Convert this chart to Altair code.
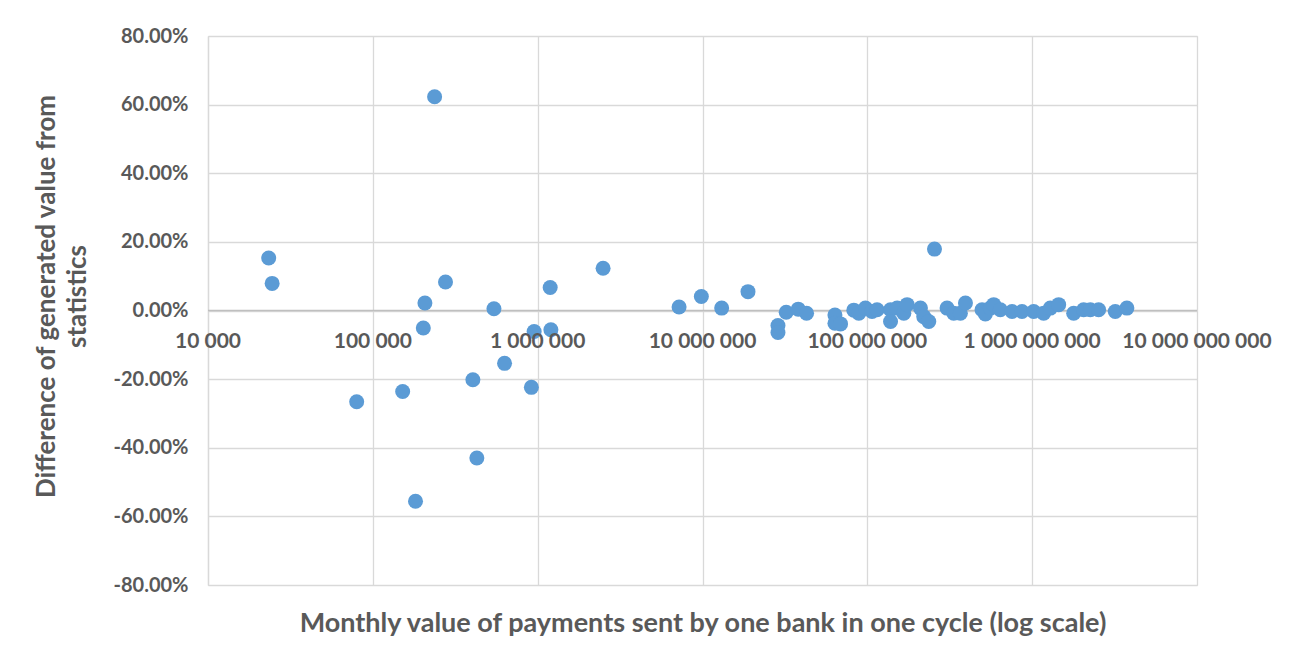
import altair as alt
import pandas as pd

# Monthly value of payments (x, log scale) and difference in % (y)
payments = [
    23350, 24500, 79800, 151700, 181500, 202400, 207000, 237000, 276000,
    404600, 427600, 543000, 629600, 916000, 952000, 1191000, 1203000, 2494000,
    7210000, 9840000, 13070000, 18880000, 28700000, 28700000, 32200000,
    38100000, 42800000, 63600000, 63600000, 68800000, 82800000, 88800000,
    97400000, 106800000, 114600000, 138300000, 138300000, 151700000,
    166500000, 174300000, 210000000, 219900000, 235900000, 255500000,
    304600000, 334300000, 367000000, 393800000, 496500000, 520000000,
    558000000, 584400000, 641000000, 755000000, 867700000, 1021000000,
    1174000000, 1289000000, 1448000000, 1786000000, 2052000000, 2254000000,
    2530000000, 3193000000, 3755000000,
]
difference_pct = [
    15.3, 7.9, -26.6, -23.6, -55.6, -5.1, 2.2, 62.3, 8.3,
    -20.2, -43.0, 0.5, -15.4, -22.4, -6.1, 6.7, -5.6, 12.3,
    1.0, 4.1, 0.7, 5.5, -4.4, -6.4, -0.5,
    0.4, -0.8, -1.3, -3.7, -3.9, 0.1, -0.8,
    0.7, -0.3, 0.2, 0.2, -3.2, 0.7,
    -0.8, 1.7, 0.7, -1.8, -3.2, 17.9,
    0.7, -0.8, -0.8, 2.2, 0.2, -1.0,
    0.7, 1.7, 0.2, -0.3, -0.3, -0.3,
    -0.8, 0.7, 1.7, -0.8, 0.2, 0.2,
    0.2, -0.3, 0.7,
]

x_ticks = [1e4, 1e5, 1e6, 1e7, 1e8, 1e9, 1e10]
x_tick_labels = ["10 000", "100 000", "1 000 000", "10 000 000",
                 "100 000 000", "1 000 000 000", "10 000 000 000"]
y_ticks = [-80, -60, -40, -20, 0, 20, 40, 60, 80]

df = pd.DataFrame({"payments": payments, "diff": difference_pct})
df_lab = pd.DataFrame({"payments": x_ticks, "label": x_tick_labels,
                       "zero": [0] * len(x_ticks)})
df_zero = pd.DataFrame({"zero": [0]})

FONT = "Lato"
TXT = "#595959"
GRID = "#d9d9d9"

x_scale = alt.Scale(type="log", domain=[1e4, 1e10], nice=False)
y_scale = alt.Scale(domain=[-80, 80], nice=False)

points = alt.Chart(df).mark_circle(size=225, opacity=1, color="#5B9BD5").encode(
    x=alt.X("payments:Q", scale=x_scale,
            axis=alt.Axis(values=x_ticks, labels=False, ticks=False, domain=False,
                          grid=True, gridColor=GRID, gridWidth=1.3,
                          title="Monthly value of payments sent by one bank in one cycle (log scale)",
                          titleFont=FONT, titleFontSize=27, titleFontWeight="bold",
                          titleColor=TXT, titlePadding=25)),
    y=alt.Y("diff:Q", scale=y_scale,
            axis=alt.Axis(values=y_ticks, ticks=False, domain=True, domainColor=GRID,
                          domainWidth=1.3, grid=True, gridColor=GRID, gridWidth=1.3,
                          labelExpr="(datum.value < 0 ? '-' : '') + format(abs(datum.value), '.2f') + '%'",
                          labelFont=FONT, labelFontSize=20, labelFontWeight="bold",
                          labelColor=TXT, labelPadding=20,
                          title=["Difference of generated value from", "statistics"],
                          titleFont=FONT, titleFontSize=26, titleFontWeight="bold",
                          titleColor=TXT, titleAngle=-90, titleAlign="center",
                          titleBaseline="top", titleX=-175, titleY=260,
                          titleLineHeight=31)),
)

zero_rule = alt.Chart(df_zero).mark_rule(color="#bfbfbf", strokeWidth=1.5).encode(
    y=alt.Y("zero:Q", scale=y_scale),
)

x_labels = alt.Chart(df_lab).mark_text(
    font=FONT, fontSize=21, fontWeight="bold", color=TXT,
    align="center", baseline="middle", dy=31,
).encode(
    x=alt.X("payments:Q", scale=x_scale),
    y=alt.Y("zero:Q", scale=y_scale),
    text="label:N",
)

chart = alt.layer(zero_rule, points, x_labels).properties(
    width=989, height=549,
    padding={"left": 200, "top": 28, "right": 88, "bottom": 52},
    autosize=alt.AutoSizeParams(type="none"),
).configure_view(stroke=None).configure(background="white")

chart.save("out.html", embed_options={"renderer": "svg", "actions": False})
